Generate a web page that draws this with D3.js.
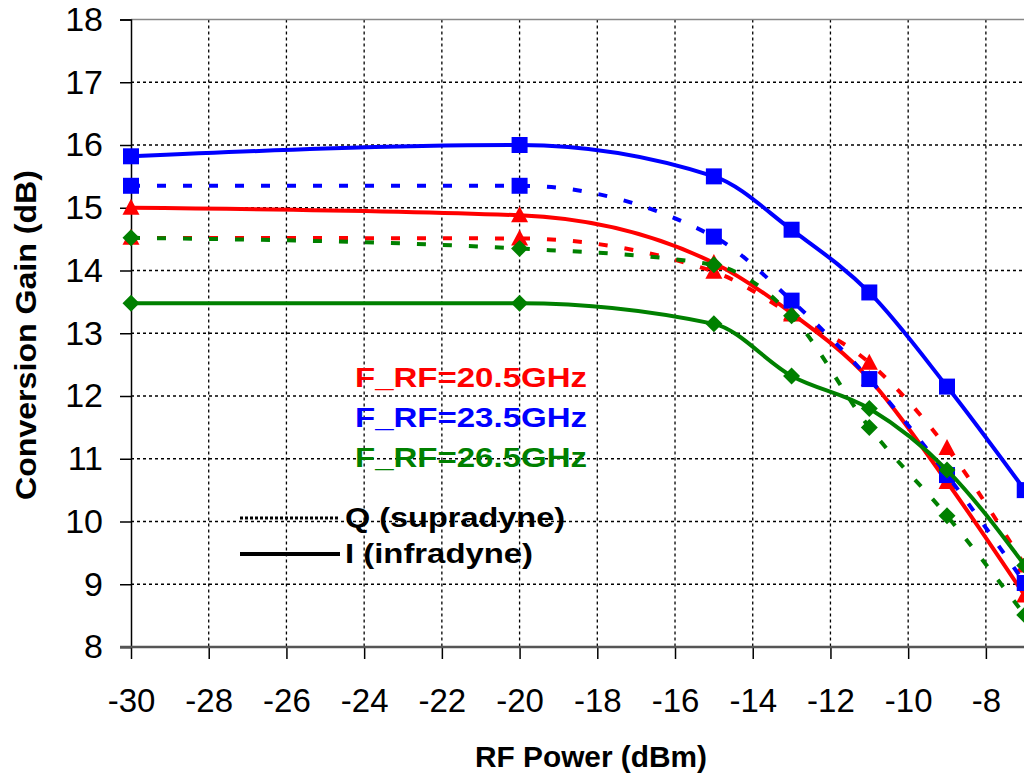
<!DOCTYPE html>
<html>
<head>
<meta charset="utf-8">
<script src="https://cdn.jsdelivr.net/npm/d3@7.9.0/dist/d3.min.js"></script>
<style>
  body { margin: 0; background: #fff; }
  svg { display: block; font-family: "Liberation Sans", Arial, sans-serif; }
</style>
</head>
<body>
<svg id="chart" width="1024" height="781"></svg>
<script>
// RF power sweep points (dBm)
const rfPower = [-30, -20, -15, -13, -11, -9, -7];

// conversion gain (dB), I = infradyne (solid), Q = supradyne (dashed)
const gainI_205 = [15.0, 14.88, 14.12, 13.32, 12.27, 10.63, 8.82];
const gainQ_205 = [14.52, 14.51, 13.98, 13.3, 12.53, 11.17, 9.3];
const gainI_235 = [15.82, 16.0, 15.5, 14.65, 13.65, 12.15, 10.5];
const gainQ_235 = [15.35, 15.35, 14.54, 13.52, 12.27, 10.74, 9.02];
const gainI_265 = [13.48, 13.48, 13.15, 12.32, 11.8, 10.82, 9.3];
const gainQ_265 = [14.52, 14.35, 14.09, 13.28, 11.5, 10.09, 8.51];

const xTicks = [-30, -28, -26, -24, -22, -20, -18, -16, -14, -12, -10, -8];
const yTicks = [8, 9, 10, 11, 12, 13, 14, 15, 16, 17, 18];
const freqLabels = ['F_RF=20.5GHz', 'F_RF=23.5GHz', 'F_RF=26.5GHz'];

const red = '#ff0000', blue = '#0000ff', green = '#008000';

// drawing order follows the original workbook
const series = [
  { vals: gainI_205, color: red, dashed: false, marker: 'triangle' },
  { vals: gainQ_205, color: red, dashed: true, marker: 'triangle' },
  { vals: gainI_235, color: blue, dashed: false, marker: 'square' },
  { vals: gainQ_235, color: blue, dashed: true, marker: 'square' },
  { vals: gainI_265, color: green, dashed: false, marker: 'diamond' },
  { vals: gainQ_265, color: green, dashed: true, marker: 'diamond' },
];

const svg = d3.select('#chart');
const x = d3.scaleLinear().domain([-30, -6]).range([131, 1063.6]);
const y = d3.scaleLinear().domain([8, 18]).range([647, 19.5]);

// grid
const grid = svg.append('g');
grid.selectAll('.hg')
  .data(yTicks.filter(d => d > 8 && d < 18))
  .join('line')
  .attr('x1', x(-30)).attr('x2', 1024)
  .attr('y1', d => y(d)).attr('y2', d => y(d))
  .attr('stroke', '#000').attr('stroke-width', 1.3)
  .attr('stroke-dasharray', '3,3');
grid.selectAll('.vg')
  .data(xTicks.filter(d => d > -30))
  .join('line')
  .attr('x1', d => x(d)).attr('x2', d => x(d))
  .attr('y1', y(18)).attr('y2', y(8))
  .attr('stroke', '#000').attr('stroke-width', 1.3)
  .attr('stroke-dasharray', '3,3');
// top border
grid.append('line')
  .attr('x1', x(-30)).attr('x2', 1024)
  .attr('y1', y(18)).attr('y2', y(18))
  .attr('stroke', '#888').attr('stroke-width', 1.3);

// axes
const yAxis = d3.axisLeft(y).tickValues(yTicks).tickSize(11).tickPadding(17);
const gy = svg.append('g').attr('transform', `translate(${x(-30)},0)`).call(yAxis);
gy.select('.domain').attr('stroke', '#000').attr('stroke-width', 1.5);
gy.selectAll('.tick line').attr('stroke', '#000').attr('stroke-width', 1.5);
gy.selectAll('.tick text')
  .attr('font-size', 34).attr('fill', '#000')
  .attr('font-family', 'Arimo, "Liberation Sans", Arial, sans-serif');

const xAxis = d3.axisBottom(x).tickValues(xTicks).tickSize(12).tickPadding(30)
  .tickFormat(d => String(d));
const gx = svg.append('g').attr('transform', `translate(0,${y(8)})`).call(xAxis);
gx.select('.domain').remove();
gx.append('line')
  .attr('x1', x(-30) - 11).attr('x2', 1024)
  .attr('stroke', '#555').attr('stroke-width', 2.5);
gx.selectAll('.tick line').attr('stroke', '#000').attr('stroke-width', 1.5);
gx.selectAll('.tick text')
  .attr('font-size', 33).attr('fill', '#000')
  .attr('font-family', '"Liberation Sans", Arial, sans-serif');

// titles
svg.append('text')
  .attr('transform', 'translate(36,335) rotate(-90)')
  .attr('text-anchor', 'middle')
  .attr('font-size', 29).attr('font-weight', 'bold')
  .attr('textLength', 330).attr('lengthAdjust', 'spacingAndGlyphs')
  .text('Conversion Gain (dB)');
svg.append('text')
  .attr('x', 591).attr('y', 767)
  .attr('text-anchor', 'middle')
  .attr('font-size', 29).attr('font-weight', 'bold')
  .attr('textLength', 232).attr('lengthAdjust', 'spacingAndGlyphs')
  .text('RF Power (dBm)');

// series
const line = d3.line()
  .x((d, i) => x(rfPower[i]))
  .y(d => y(d))
  .curve(d3.curveMonotoneX);

const markerPath = {
  square: d3.symbol(d3.symbolSquare, 16 * 16)(),
  triangle: 'M0,-9L8.5,7L-8.5,7Z',
  diamond: 'M0,-8.5L8.5,0L0,8.5L-8.5,0Z',
};

series.forEach(s => {
  const g = svg.append('g');
  g.append('path')
    .attr('d', line(s.vals))
    .attr('fill', 'none')
    .attr('stroke', s.color)
    .attr('stroke-width', 4)
    .attr('stroke-dasharray', s.dashed ? '9,17' : null);
  g.selectAll('path.m')
    .data(s.vals)
    .join('path')
    .attr('class', 'm')
    .attr('d', markerPath[s.marker])
    .attr('transform', (d, i) => `translate(${x(rfPower[i])},${y(d)})`)
    .attr('fill', s.color);
});

// legend
const legColors = [red, blue, green];
svg.selectAll('.freq')
  .data(freqLabels)
  .join('text')
  .attr('x', 355)
  .attr('y', (d, i) => 387 + i * 40)
  .attr('font-size', 28).attr('font-weight', 'bold')
  .attr('fill', (d, i) => legColors[i])
  .attr('textLength', 232).attr('lengthAdjust', 'spacingAndGlyphs')
  .text(d => d);

svg.append('line')
  .attr('x1', 240).attr('x2', 340).attr('y1', 518).attr('y2', 518)
  .attr('stroke', '#000').attr('stroke-width', 3).attr('stroke-dasharray', '3,2');
svg.append('line')
  .attr('x1', 240).attr('x2', 340).attr('y1', 554).attr('y2', 554)
  .attr('stroke', '#000').attr('stroke-width', 4);
svg.append('text')
  .attr('x', 345).attr('y', 527)
  .attr('font-size', 28).attr('font-weight', 'bold')
  .attr('textLength', 220).attr('lengthAdjust', 'spacingAndGlyphs')
  .text('Q (supradyne)');
svg.append('text')
  .attr('x', 345).attr('y', 563)
  .attr('font-size', 28).attr('font-weight', 'bold')
  .attr('textLength', 188).attr('lengthAdjust', 'spacingAndGlyphs')
  .text('I (infradyne)');
</script>
</body>
</html>
